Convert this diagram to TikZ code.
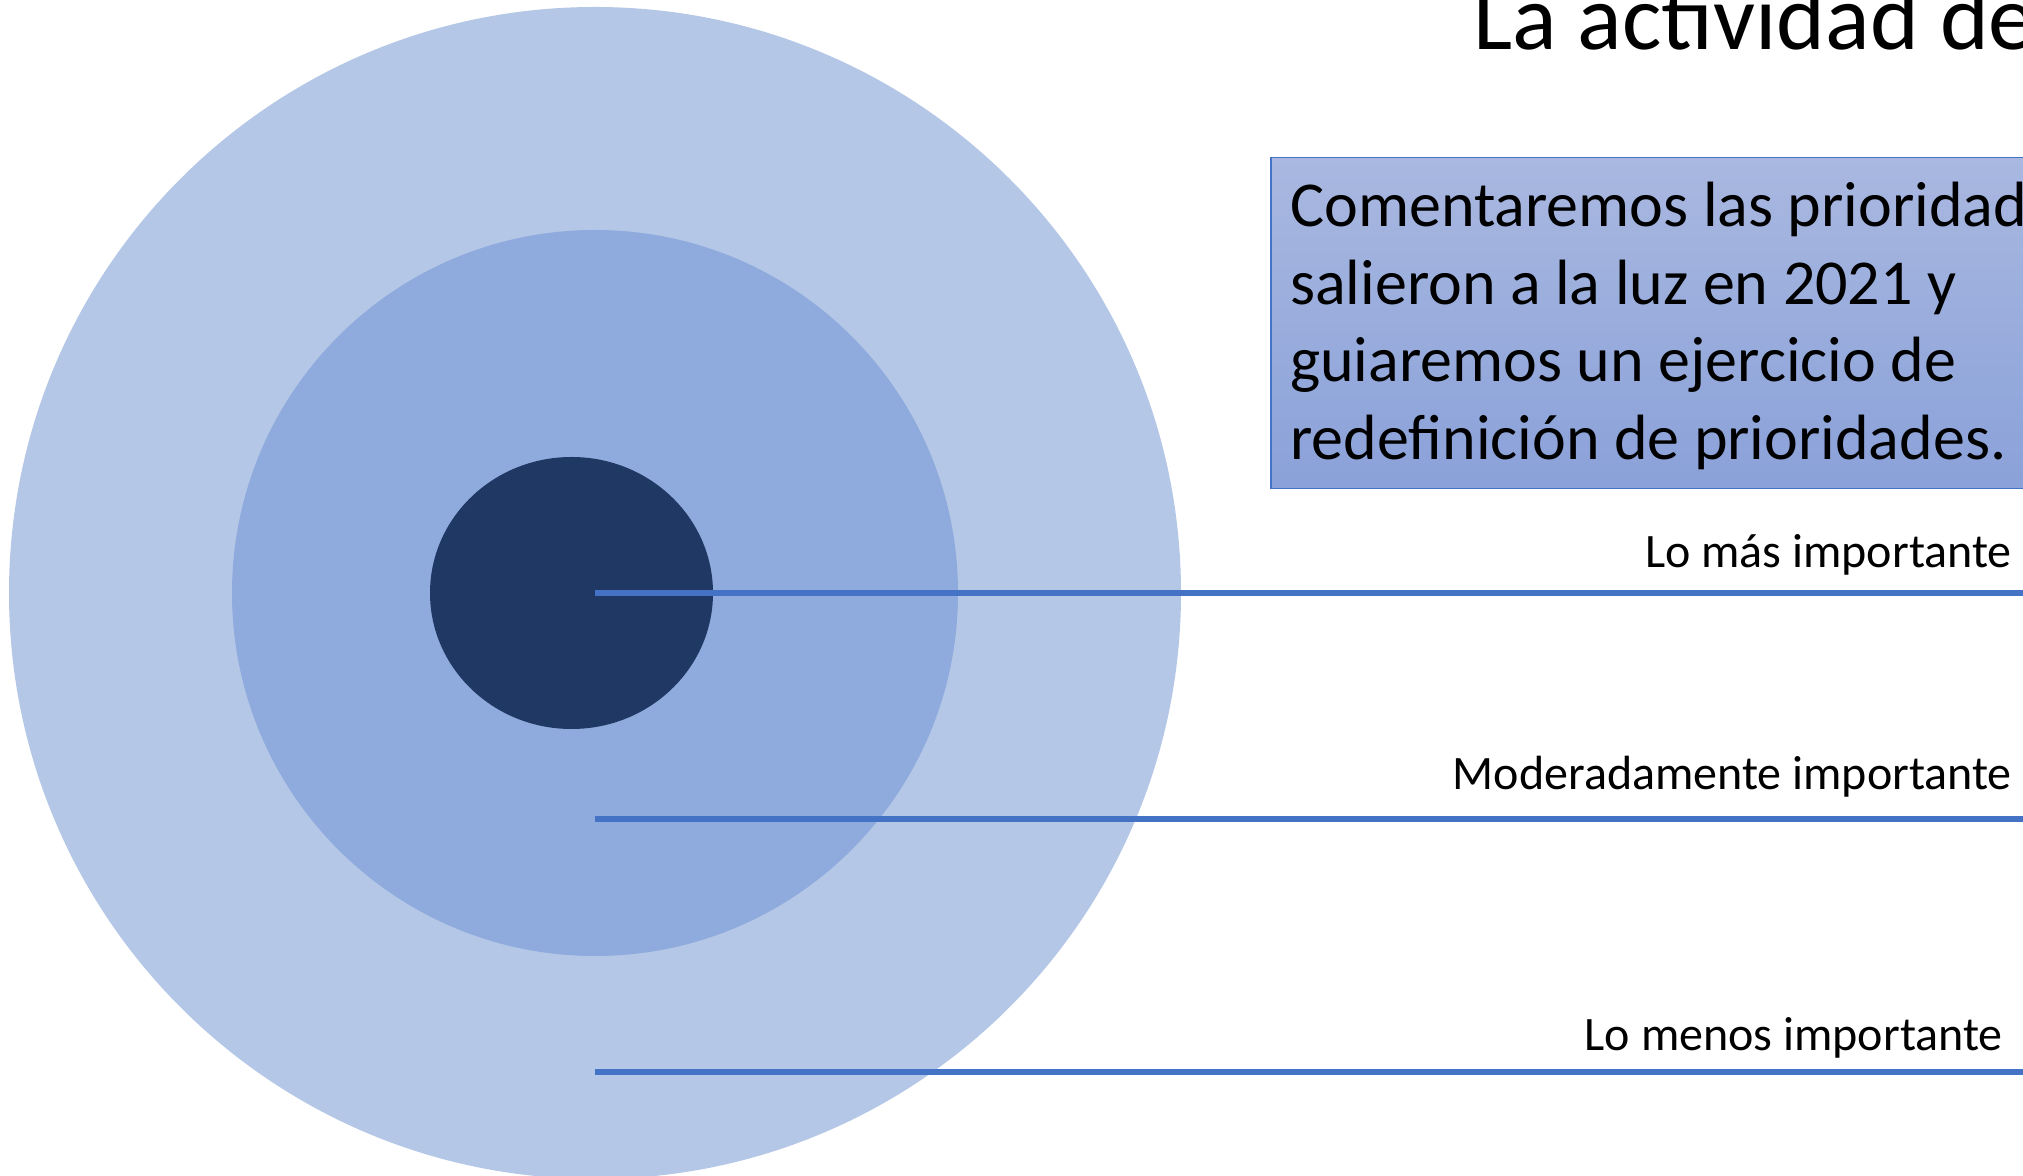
\documentclass[tikz,border=0pt]{standalone}
\usepackage{fontspec}
\setmainfont{Carlito}
\usetikzlibrary{shapes.geometric}
\definecolor{ringlight}{HTML}{B4C7E7}
\definecolor{ringmid}{HTML}{8FAADC}
\definecolor{ringcore}{HTML}{203864}
\definecolor{guideblue}{HTML}{4472C4}
\definecolor{notetop}{HTML}{A9B8E0}
\definecolor{notebottom}{HTML}{8AA1D9}

\begin{document}
\begin{tikzpicture}[x=1pt, y=1pt, inner sep=0pt,
	ring/.style = {circle, minimum size = #1},
	guide/.style = {draw = guideblue, line width = 5.5pt},
	level/.style = {anchor = base east, font = \fontsize{48}{57}\selectfont},
	noteline/.style = {anchor = base west, font = \fontsize{64}{77}\selectfont}]
	\useasboundingbox (0,0) rectangle (2023,1175);
	\clip (0,0) rectangle (2023,1175);
	% target rings
	\node[ring = 1172pt, fill = ringlight] (outer) at (595,582) {};
	\node[ring = 726pt, fill = ringmid] (middle) at (outer.center) {};
	\node[ellipse, minimum width = 283pt, minimum height = 272pt, fill = ringcore] (core) at (571.5,582) {};
	% guide lines
	\coordinate (edge1) at (2030,582);
	\coordinate (start2) at (595,356);
	\coordinate (edge2) at (2030,356);
	\coordinate (start3) at (595,103);
	\coordinate (edge3) at (2030,103);
	\draw[guide] (outer.center) -- (edge1);
	\draw[guide] (start2) -- (edge2);
	\draw[guide] (start3) -- (edge3);
	\node[level] (most) at (2012,607) {Lo más importante};
	\node[level] (moderate) at (2012,385) {Moderadamente importante};
	\node[level] (least) at (2003,124) {Lo menos importante};
	% title and note box
	\node[anchor = base west, font = \fontsize{93}{110}\selectfont] (title) at (1473,1125) {La actividad de};
	\node[anchor = north west, draw = guideblue, line width = 1.5pt, top color = notetop, bottom color = notebottom,
		minimum width = 800pt, minimum height = 331pt] (note) at (1270,1018) {};
	\node[noteline] (line1) at (1290,948) {Comentaremos las prioridad};
	\node[noteline] (line2) at (1290,870.5) {salieron a la luz en 2021 y};
	\node[noteline] (line3) at (1290,793) {guiaremos un ejercicio de};
	\node[noteline] (line4) at (1290,715.5) {redefinición de prioridades.};
\end{tikzpicture}
\end{document}
